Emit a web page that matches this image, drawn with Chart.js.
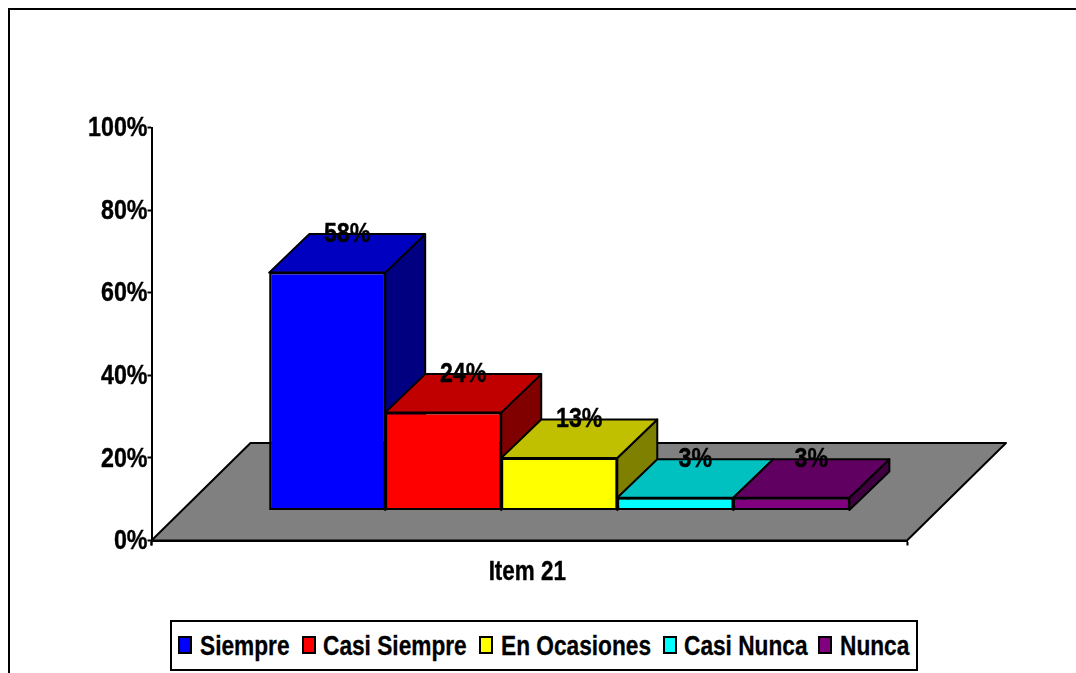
<!DOCTYPE html>
<html>
<head>
<meta charset="utf-8">
<title>Item 21</title>
<script src="https://cdn.jsdelivr.net/npm/chart.js@4"></script>
<style>
    html, body { margin: 0; padding: 0; background: #fff; overflow: hidden; }
    #frame { position: absolute; left: 8px; top: 8px; width: 1068px; height: 665px; border-top: 2px solid #000; border-left: 2px solid #000; box-sizing: border-box; }
    #divChart { position: absolute; left: 0; top: 0; width: 1076px; height: 673px; }
    #legend { position: absolute; left: 170px; top: 620px; width: 748px; height: 51px; box-sizing: border-box; border: 2px solid #000; background: #fff;
        font: bold 27px "Liberation Sans", sans-serif; color: #000; -webkit-text-stroke: 0.3px #000; }
    #legend i { position: absolute; top: 14px; width: 14px; height: 18px; box-sizing: border-box; border: 2px solid #000; }
    #legend span { position: absolute; top: 10px; line-height: 28px; white-space: nowrap; transform: scaleX(0.84); transform-origin: left center; }
</style>
</head>
<body>
<div id="frame"></div>
<div id="divChart"><canvas id="chart" width="1076" height="673"></canvas></div>
<div id="legend"></div>
<script>
const CATEGORIES = ["Item 21"];
const SERIES = ["Siempre", "Casi Siempre", "En Ocasiones", "Casi Nunca", "Nunca"];
const VALUES = [57.6, 23.7, 12.7, 3.1, 3.1];
const TICKS_MAX = 100;
const TICKS_STEP = 20;

const FRONT = ["#0000FF", "#FF0000", "#FFFF00", "#00FFFF", "#800080"];
const TOP = ["#0000C0", "#C00000", "#C0C000", "#00C0C0", "#600060"];
const SIDE = ["#000080", "#800000", "#808000", "#008080", "#400040"];

const LEGEND_BOX_X = [6, 130, 307, 491, 646];
const LEGEND_TEXT_X = [28, 151, 329, 512, 668];

const FONT = '"Liberation Sans", sans-serif';
const SQUEEZE = 0.83;

// floor offset of the bars and depth of the 3D boxes
const SHIFT = { x: 30, y: -30 };
const DEPTH = { x: 40, y: -38.5 };

const poly = (ctx, pts, fill) => {
    ctx.beginPath();
    pts.forEach((p, i) => (i ? ctx.lineTo(p[0], p[1]) : ctx.moveTo(p[0], p[1])));
    ctx.closePath();
    if (fill) {
        ctx.fillStyle = fill;
        ctx.fill();
    }
    ctx.lineWidth = 2;
    ctx.strokeStyle = "#000";
    ctx.lineJoin = "round";
    ctx.stroke();
};

// Original text is a tall narrow Arial: squeeze it through maxWidth
const narrowText = (ctx, text, x, y, size, align) => {
    ctx.font = "bold " + size + "px " + FONT;
    ctx.fillStyle = "#000";
    ctx.strokeStyle = "#000";
    ctx.lineWidth = 0.4;
    ctx.textAlign = align;
    ctx.textBaseline = "middle";
    const width = ctx.measureText(text).width * SQUEEZE;
    ctx.fillText(text, x, y, width);
    ctx.strokeText(text, x, y, width);
};

const fake3d = {
    id: "fake3d",
    // Grey floor under the axes
    beforeDraw: (chart) => {
        const a = chart.chartArea;
        const dx = 99, dy = -97.5;
        poly(chart.ctx, [[a.left, a.bottom], [a.right, a.bottom], [a.right + dx, a.bottom + dy], [a.left + dx, a.bottom + dy]], "#808080");
    },
    // Top and side of every box, in series order
    beforeDatasetsDraw: (chart) => {
        const ctx = chart.ctx;
        SERIES.forEach((name, i) => {
            const bar = chart.getDatasetMeta(i).data[0];
            const l = bar.x - bar.width / 2 + SHIFT.x;
            const r = bar.x + bar.width / 2 + SHIFT.x;
            const t = bar.y + SHIFT.y;
            const b = bar.base + SHIFT.y;
            poly(ctx, [[r, b], [r, t], [r + DEPTH.x, t + DEPTH.y], [r + DEPTH.x, b + DEPTH.y]], SIDE[i]);
            poly(ctx, [[l, t], [r, t], [r + DEPTH.x, t + DEPTH.y], [l + DEPTH.x, t + DEPTH.y]], TOP[i]);
        });
    },
    beforeDatasetDraw: (chart) => {
        chart.ctx.save();
        chart.ctx.translate(SHIFT.x, SHIFT.y);
    },
    afterDatasetDraw: (chart) => {
        chart.ctx.restore();
    },
    afterDraw: (chart) => {
        const ctx = chart.ctx;
        const x = chart.scales.x;
        const y = chart.scales.y;
        ctx.save();
        // Value labels sit on the back edge of each box
        VALUES.forEach((v, i) => {
            const bar = chart.getDatasetMeta(i).data[0];
            narrowText(ctx, Math.round(v) + "%", bar.x + SHIFT.x + DEPTH.x / 2, bar.y + SHIFT.y + DEPTH.y, 28, "center");
        });
        // Axis labels come from the scales
        y.ticks.forEach((t, i) => {
            narrowText(ctx, t.label, y.right - 4, y.getPixelForTick(i) + 1, 28, "right");
        });
        narrowText(ctx, x.ticks[0].label, (x.left + x.right) / 2 - 2, x.top + 32, 27, "center");
        // Left end tick of the category axis
        ctx.lineWidth = 2;
        ctx.beginPath();
        ctx.moveTo(x.left, x.top);
        ctx.lineTo(x.left, x.top + 5);
        ctx.stroke();
        ctx.restore();
    }
};

new Chart(document.getElementById("chart"), {
    type: "bar",
    plugins: [fake3d],
    data: {
        labels: CATEGORIES,
        datasets: SERIES.map((name, i) => ({
            label: name,
            data: [VALUES[i]],
            backgroundColor: FRONT[i],
            borderColor: "#000",
            borderWidth: 2,
            borderSkipped: false,
            barPercentage: 1,
            categoryPercentage: 0.768
        }))
    },
    options: {
        responsive: false,
        animation: false,
        layout: { padding: { left: 0, right: 169, top: 127.5, bottom: 0 } },
        plugins: { legend: { display: false }, title: { display: false }, tooltip: { enabled: false } },
        scales: {
            x: {
                afterFit: (scale) => { scale.height = 132.5; },
                border: { color: "#000", width: 2 },
                grid: { display: true, drawOnChartArea: false, drawTicks: true, tickLength: 5, tickWidth: 2, tickColor: "#000", offset: true },
                ticks: { display: false }
            },
            y: {
                min: 0,
                max: TICKS_MAX,
                afterFit: (scale) => { scale.width = 151.5; },
                border: { color: "#000", width: 2 },
                grid: { display: true, drawOnChartArea: false, drawTicks: true, tickLength: 4, tickWidth: 2, tickColor: "#000" },
                ticks: {
                    display: false,
                    stepSize: TICKS_STEP,
                    callback: (v) => v + "%"
                }
            }
        }
    }
});

// Legend box outside the canvas
const LEGEND = document.getElementById("legend");
SERIES.forEach((name, i) => {
    const box = document.createElement("i");
    box.style.left = LEGEND_BOX_X[i] + "px";
    box.style.background = FRONT[i];
    const text = document.createElement("span");
    text.style.left = LEGEND_TEXT_X[i] + "px";
    text.textContent = name;
    LEGEND.appendChild(box);
    LEGEND.appendChild(text);
});
</script>
</body>
</html>
